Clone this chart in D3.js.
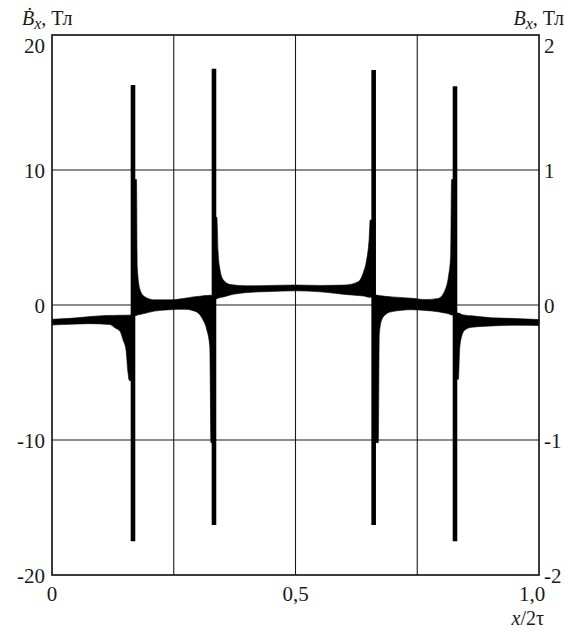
<!DOCTYPE html>
<html>
<head>
<meta charset="utf-8">
<script src="https://cdn.jsdelivr.net/npm/d3@7"></script>
<style>
  html, body { margin: 0; padding: 0; background: #fff; }
</style>
</head>
<body>
<svg id="chart" width="566" height="630"></svg>
<script>
// ---- data ----
const xGridValues = [0.25, 0.5, 0.75];
const xTickValues = [0, 0.5, 1.0];
const xTickLabels = ["0", "0,5", "1,0"];
const leftTickValues = [-20, -10, 0, 10, 20];
const leftTickLabels = ["-20", "-10", "0", "10", "20"];
const rightTickValues = [-2, -1, 0, 1, 2];
const rightTickLabels = ["-2", "-1", "0", "1", "2"];
const yGridValues = [-10, 0, 10];

// noisy band of dBx/dt: upper and lower envelope, segments separated by null
const bandX = [
  0, 0.037, 0.078, 0.119, 0.129, 0.140, 0.146, 0.152, 0.156, 0.159, 0.163, null,
  0.170, 0.1735, 0.175, 0.181, 0.191, 0.211, 0.242, 0.273, 0.290, 0.304, 0.310, 0.318, 0.324, 0.3265, 0.329, null,
  0.336, 0.3385, 0.341, 0.345, 0.352, 0.366, 0.400, 0.448, 0.501, 0.550, 0.602, 0.629, 0.639, 0.646, 0.651, 0.6535, 0.657, null,
  0.664, 0.670, 0.672, 0.677, 0.684, 0.698, 0.739, 0.766, 0.793, 0.807, 0.814, 0.8185, 0.8205, 0.824, null,
  0.831, 0.8345, 0.837, 0.841, 0.848, 0.862, 0.903, 0.951, 1.0
];
const bandHi = [
  -1.06, -0.99, -0.86, -0.77, -0.77, -0.76, -0.76, -0.75, -0.75, -0.75, -0.74, null,
  9.3, 9.3, 2.8, 1.1, 0.6, 0.38, 0.38, 0.5, 0.6, 0.65, 0.68, 0.7, 0.72, 0.72, 0.72, null,
  6.5, 6.5, 4.0, 2.6, 1.85, 1.52, 1.42, 1.45, 1.48, 1.45, 1.48, 1.73, 2.37, 3.33, 4.8, 6.3, 6.3, null,
  0.74, 0.72, 0.7, 0.68, 0.64, 0.6, 0.5, 0.4, 0.49, 1.1, 2.1, 3.6, 9.3, 9.3, null,
  -0.6, -0.6, -0.62, -0.7, -0.75, -0.8, -0.95, -1.0, -1.08
];
const bandLo = [
  -1.48, -1.43, -1.38, -1.45, -1.68, -1.97, -2.6, -3.33, -5.0, -5.6, -5.6, null,
  -0.8, -0.78, -0.74, -0.7, -0.62, -0.45, -0.35, -0.32, -0.42, -0.74, -1.1, -1.85, -3.1, -10.2, -10.2, null,
  0.45, 0.47, 0.5, 0.55, 0.6, 0.74, 0.92, 1.0, 1.05, 0.98, 0.78, 0.7, 0.67, 0.62, 0.57, 0.57, 0.57, null,
  -10.2, -10.2, -2.2, -1.1, -0.74, -0.49, -0.35, -0.4, -0.5, -0.6, -0.65, -0.72, -0.74, -0.74, null,
  -5.5, -5.5, -3.3, -2.35, -1.85, -1.65, -1.55, -1.5, -1.52
];

// narrow spikes
const spikeX = [0.1663, 0.3326, 0.6605, 0.8275];
const spikeTop = [16.3, 17.5, 17.4, 16.2];
const spikeBottom = [-17.5, -16.3, -16.3, -17.5];

// ---- layout ----
const L = 52, R = 539, T = 35, B = 575;
const FONT = "'Liberation Serif', 'Times New Roman', Times, 'DejaVu Serif', serif";
const svg = d3.select("#chart");

const x = d3.scaleLinear().domain([0, 1]).range([L, R]);
const yL = d3.scaleLinear().domain([-20, 20]).range([B, T]);
const yR = d3.scaleLinear().domain([-2, 2]).range([B, T]);

// grid
const grid = svg.append("g").attr("stroke", "#1a1a1a").attr("stroke-width", 1.1);
grid.selectAll("line.v").data(xGridValues).join("line")
  .attr("x1", d => x(d)).attr("x2", d => x(d)).attr("y1", T).attr("y2", B);
grid.selectAll("line.h").data(yGridValues).join("line")
  .attr("y1", d => yL(d)).attr("y2", d => yL(d)).attr("x1", L).attr("x2", R);

// band
const idx = d3.range(bandX.length);
const area = d3.area()
  .defined(i => bandX[i] !== null)
  .x(i => x(bandX[i]))
  .y0(i => yL(bandLo[i]))
  .y1(i => yL(bandHi[i]))
  .curve(d3.curveMonotoneX);
svg.append("path").attr("d", area(idx)).attr("fill", "#000").attr("stroke", "#000").attr("stroke-width", 0.6);

// spikes
svg.append("g").selectAll("line").data(spikeX).join("line")
  .attr("x1", d => x(d)).attr("x2", d => x(d))
  .attr("y1", (d, i) => yL(spikeTop[i])).attr("y2", (d, i) => yL(spikeBottom[i]))
  .attr("stroke", "#000").attr("stroke-width", 4.6);

// frame
svg.append("rect").attr("x", L).attr("y", T).attr("width", R - L).attr("height", B - T)
  .attr("fill", "none").attr("stroke", "#1a1a1a").attr("stroke-width", 1.7);

const txt = svg.append("g").attr("font-family", FONT).attr("fill", "#1a1a1a").attr("font-size", 21);

// left tick labels
txt.append("g").selectAll("text").data(leftTickValues).join("text")
  .attr("x", L - 7)
  .attr("y", d => d === 20 ? yL(d) + 18 : yL(d) + 8)
  .attr("text-anchor", "end")
  .text((d, i) => leftTickLabels[i]);

// right tick labels
txt.append("g").selectAll("text").data(rightTickValues).join("text")
  .attr("x", R + 5)
  .attr("y", d => d === 2 ? yR(d) + 18 : yR(d) + 8)
  .attr("text-anchor", "start")
  .text((d, i) => rightTickLabels[i]);

// bottom tick labels
txt.append("g").selectAll("text").data(xTickValues).join("text")
  .attr("x", d => d === 1 ? x(d) - 7 : x(d))
  .attr("y", B + 26)
  .attr("text-anchor", "middle")
  .text((d, i) => xTickLabels[i]);

// axis titles
const tl = txt.append("text").attr("x", 22).attr("y", 25).attr("font-size", 20);
tl.append("tspan").attr("font-style", "italic").text("\u1E02");
tl.append("tspan").attr("font-style", "italic").attr("font-size", 16).attr("dy", 4).text("x");
tl.append("tspan").attr("dy", -4).text(", Тл");

const tr = txt.append("text").attr("x", 564).attr("y", 25).attr("font-size", 20).attr("text-anchor", "end");
tr.append("tspan").attr("font-style", "italic").text("B");
tr.append("tspan").attr("font-style", "italic").attr("font-size", 16).attr("dy", 4).text("x");
tr.append("tspan").attr("dy", -4).text(", Тл");

const xl = txt.append("text").attr("x", 544).attr("y", 625).attr("font-size", 20).attr("text-anchor", "end");
xl.append("tspan").attr("font-style", "italic").text("x");
xl.append("tspan").text("/2τ");
</script>
</body>
</html>
